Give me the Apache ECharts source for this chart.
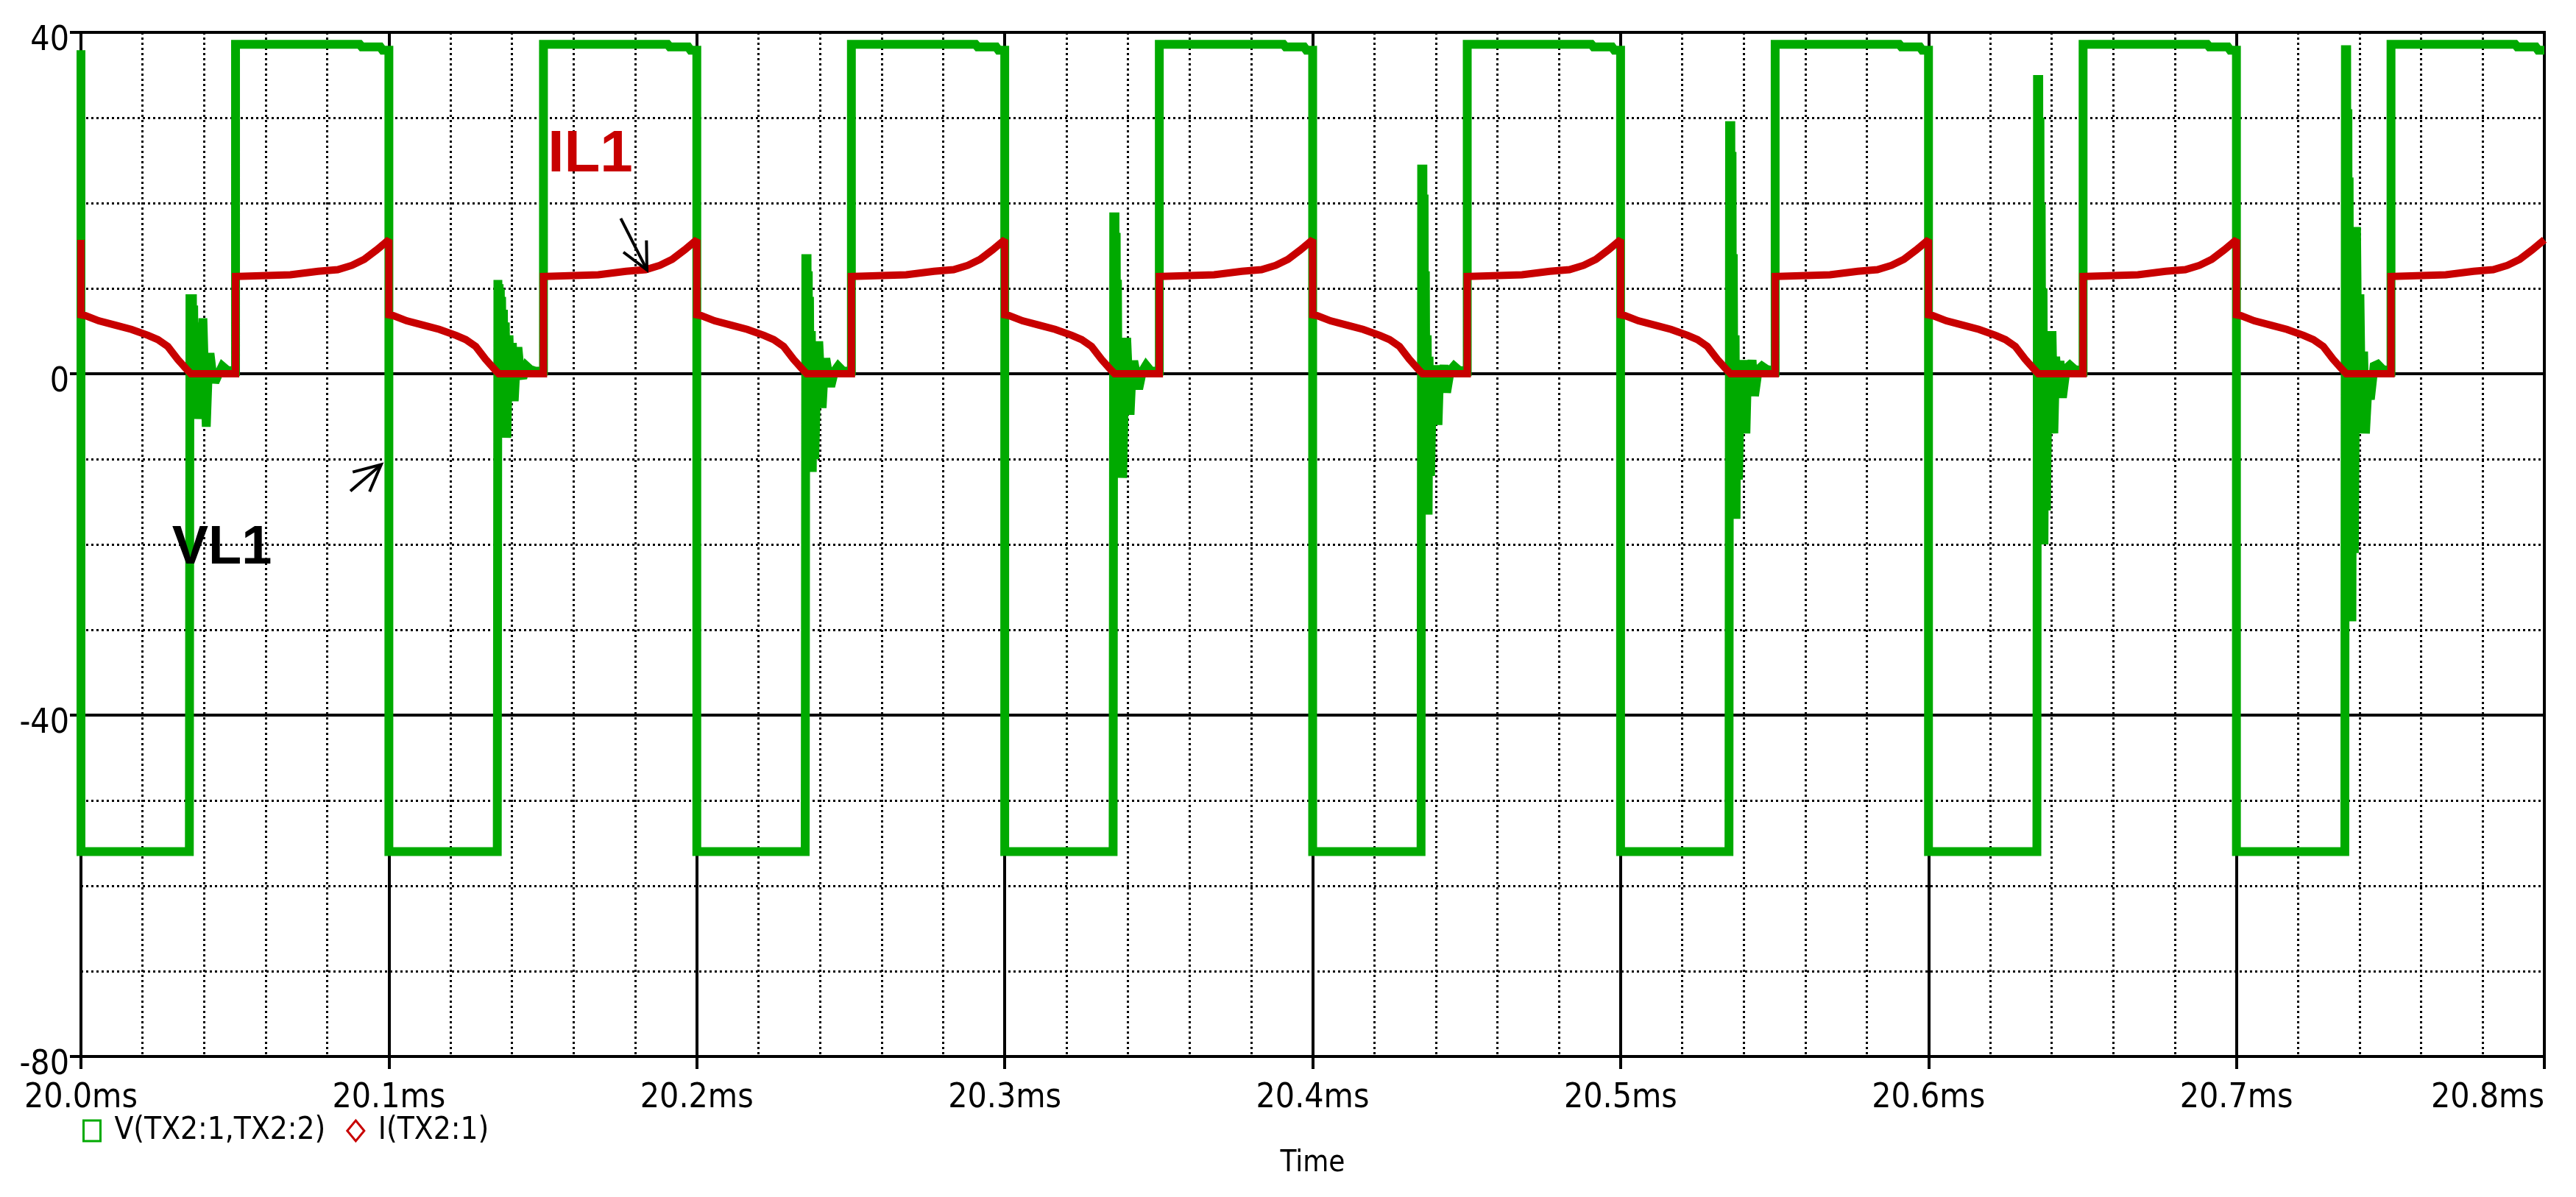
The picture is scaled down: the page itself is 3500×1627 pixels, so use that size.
<!DOCTYPE html>
<html>
<head>
<meta charset="utf-8">
<title>V(TX2:1,TX2:2) / I(TX2:1)</title>
<script src="https://cdn.jsdelivr.net/npm/echarts@6/dist/echarts.min.js"></script>
<style>
  html, body { margin: 0; padding: 0; background: #fff; }
  #main { width: 3500px; height: 1627px; }
</style>
</head>
<body>
<div id="main"></div>
<script>
// time axis in ms, the waveform repeats every 0.1 ms
var periodStarts = [20.0, 20.1, 20.2, 20.3, 20.4, 20.5, 20.6, 20.7];

// V(TX2:1,TX2:2) : low level, ringing after turn-off, then high level
// offsets are ms after each period start
var vLow = -56;
var vRingT = [0.0352, 0.0354, 0.0356, 0.0358, 0.0360, 0.0362, 0.0364, 0.0366, 0.0369, 0.0372, 0.0375, 0.0378, 0.0383,
              0.0390, 0.0396, 0.0401, 0.0407, 0.0413, 0.0419, 0.0427, 0.0435, 0.0447, 0.0459, 0.0475, 0.0502];
// ringing read per period (spikes grow over time)
var vRing = [
  [-56,  9.3,  -5.3,  9.3,  -5.3,  9.3,  -5.3,  8.0,  -5.3,  6.0,  -5.3,  3.0,  -5.3,  0.0,  6.5,  0.0, -6.2, 0.0,  2.4, 0.0, -1.0, 0.0, 0.9,  0.4, 0.3],
  [-56, 11.0,  -7.5, 10.5,  -7.5, 10.0,  -7.5,  9.0,  -7.5,  7.5,  -7.5,  6.0,  -7.5,  4.5, -3.2,  3.6, -3.2, 1.0,  3.1, 0.0, -0.5, 0.9, 0.5,  0.3, 0.3],
  [-56, 14.0, -11.5, 14.0, -11.5, 12.0, -11.5,  9.0, -11.5,  5.0, -11.5,  3.0, -10.0,  0.0,  3.8,  0.0, -4.0, 0.0,  1.8, 0.0, -1.5, 0.3, 0.9,  0.3, 0.3],
  [-56, 18.9, -12.2, 18.9, -12.2, 16.5, -12.2, 11.0, -12.2,  4.2, -12.2,  2.0, -12.2,  0.0,  4.2,  0.0, -4.8, 0.0,  1.5, 0.0, -1.8, 0.3, 1.0,  0.3, 0.3],
  [-56, 24.5, -16.5, 24.5, -16.5, 21.0, -16.5, 12.0, -16.5,  4.5, -16.5,  2.0, -12.0,  1.0, -5.0,  1.0, -6.0, 1.0, -1.0, 1.0, -2.2, 0.4, 0.9,  0.4, 0.3],
  [-56, 29.6, -17.0, 29.6, -17.0, 26.0, -17.0, 14.0, -17.0,  4.5, -17.0,  1.6, -12.4,  1.6, -4.3,  1.6, -7.0, 1.6, -0.9, 1.6, -2.6, 0.5, 0.9,  0.5, 0.3],
  [-56, 35.0, -20.0, 35.0, -20.0, 30.0, -20.0, 20.0, -20.0, 10.0, -20.0,  5.0, -16.0,  5.0, -7.0,  5.0, -7.0, 2.0, -1.5, 1.5, -2.8, 0.6, 1.0,  0.5, 0.3],
  [-56, 38.5, -29.0, 38.5, -29.0, 31.0, -29.0, 23.0, -29.0, 17.2, -29.0, 17.2, -21.0, 17.2, -7.0,  9.3, -7.0, 2.6, -7.0, -1.6, -3.0, 0.9, 1.1, 0.5, 0.3]
];
var vHighT = [0.0502, 0.0905, 0.0912, 0.0972, 0.0980, 0.1000];
var vHighV = [38.6, 38.6, 38.3, 38.3, 37.9, 37.9];

// I(TX2:1) : one period, offsets in ms
var iT = [0.0000, 0.0000, 0.0015, 0.0058, 0.0111, 0.0164, 0.0218, 0.0250, 0.0282, 0.0314, 0.0346, 0.0357,
          0.0502, 0.0502, 0.0680, 0.0770, 0.0834, 0.0880, 0.0920, 0.0960, 0.1000];
var iV = [15.7, 6.9, 6.8, 6.2, 5.7, 5.2, 4.5, 4.0, 3.2, 1.7, 0.4, 0.0,
          0.0, 11.4, 11.6, 12.0, 12.2, 12.7, 13.4, 14.5, 15.7];

// hand-drawn notes on the plot (data coordinates)
var noteText = ['IL1', 'VL1'];
var noteT = [20.1654, 20.0458];
var noteY = [25.6, -20.5];
var noteSize = [80, 74];
var noteColor = ['#c80000', '#000000'];
var arrowFrom = [[20.0875, -13.75], [20.1753, 18.2]];
var arrowTo = [[20.0975, -10.65], [20.1838, 12.17]];

var GREEN = '#00aa00';
var RED = '#c80000';
var FONT = '"Liberation Sans Narrow", "DejaVu Sans Condensed", "Liberation Sans", sans-serif';

// build the two traces
var vData = [];
periodStarts.forEach(function (t0, k) {
  if (k === 0) vData.push([t0, vHighV[vHighV.length - 1]]);
  vData.push([t0, vLow]);
  vRingT.forEach(function (dt, j) { vData.push([t0 + dt, vRing[k][j]]); });
  vHighT.forEach(function (dt, j) { vData.push([t0 + dt, vHighV[j]]); });
});

var iData = [];
periodStarts.forEach(function (t0) {
  iT.forEach(function (dt, j) { iData.push([t0 + dt, iV[j]]); });
});

var chart = echarts.init(document.getElementById('main'));

var option = {
  animation: false,
  backgroundColor: '#fff',
  grid: {
    left: 110, right: 43, top: 44, bottom: 191,
    show: true, borderColor: '#000', borderWidth: 4,
    containLabel: false, outerBoundsMode: 'none'
  },
  legend: {
    left: 112, top: 1516, padding: 0,
    itemGap: 28, itemWidth: 23, itemHeight: 28,
    selectedMode: false,
    textStyle: { fontSize: 42, fontFamily: FONT, color: '#000', padding: [0, 0, 0, 14] },
    data: [
      { name: 'V(TX2:1,TX2:2)', icon: 'rect', itemStyle: { color: 'rgba(0,0,0,0)', borderColor: GREEN, borderWidth: 3 } },
      { name: 'I(TX2:1)', icon: 'diamond', itemStyle: { color: 'rgba(0,0,0,0)', borderColor: RED, borderWidth: 3 } }
    ]
  },
  xAxis: {
    type: 'value', min: 20.0, max: 20.8, interval: 0.1,
    name: 'Time', nameLocation: 'middle', nameGap: 126,
    nameTextStyle: { fontSize: 40, fontFamily: FONT, color: '#000' },
    axisLine: { show: true, onZero: false, lineStyle: { color: '#000', width: 4 } },
    axisTick: { show: true, length: 17, lineStyle: { color: '#000', width: 4 } },
    axisLabel: {
      margin: 34, fontSize: 46, fontFamily: FONT, color: '#000',
      alignMaxLabel: 'right',
      formatter: function (v) { return v.toFixed(1) + 'ms'; }
    },
    splitLine: { show: true, lineStyle: { color: '#000', width: 4 } },
    minorTick: { show: false, splitNumber: 5 },
    minorSplitLine: { show: true, lineStyle: { color: '#000', width: 3, type: [3, 4] } }
  },
  yAxis: {
    type: 'value', min: -80, max: 40, interval: 40,
    axisLine: { show: true, onZero: false, lineStyle: { color: '#000', width: 4 } },
    axisTick: { show: true, length: 15, lineStyle: { color: '#000', width: 4 } },
    axisLabel: {
      margin: 16, fontSize: 46, fontFamily: FONT, color: '#000',
      verticalAlign: 'top', lineHeight: 24
    },
    splitLine: { show: true, lineStyle: { color: '#000', width: 4 } },
    minorTick: { show: false, splitNumber: 4 },
    minorSplitLine: { show: true, lineStyle: { color: '#000', width: 3, type: [3, 4] } }
  },
  series: [
    {
      name: 'V(TX2:1,TX2:2)',
      type: 'line',
      data: vData,
      symbol: 'none',
      showSymbol: false,
      silent: true,
      z: 3,
      itemStyle: { color: GREEN },
      lineStyle: { color: GREEN, width: 12, cap: 'butt', join: 'miter', miterLimit: 2 }
    },
    {
      name: 'I(TX2:1)',
      type: 'line',
      data: iData,
      symbol: 'none',
      showSymbol: false,
      silent: true,
      z: 4,
      itemStyle: { color: RED },
      lineStyle: { color: RED, width: 10, cap: 'butt', join: 'miter', miterLimit: 2 }
    },
    {
      // IL1 / VL1 notes
      type: 'custom',
      name: 'notes',
      silent: true,
      z: 10,
      data: noteT.map(function (t, i) { return [t, noteY[i], i]; }),
      encode: { x: 0, y: 1 },
      renderItem: function (params, api) {
        var i = api.value(2);
        var p = api.coord([api.value(0), api.value(1)]);
        return {
          type: 'text',
          x: p[0], y: p[1],
          style: {
            text: noteText[i], fill: noteColor[i],
            font: 'bold ' + noteSize[i] + 'px "Liberation Sans", Arial, sans-serif',
            align: 'center', verticalAlign: 'middle'
          }
        };
      }
    },
    {
      // thin pointer arrows
      type: 'custom',
      name: 'arrows',
      silent: true,
      z: 10,
      data: arrowFrom.map(function (a, i) { return [a[0], a[1], arrowTo[i][0], arrowTo[i][1]]; }),
      encode: { x: [0, 2], y: [1, 3] },
      renderItem: function (params, api) {
        var p1 = api.coord([api.value(0), api.value(1)]);
        var p2 = api.coord([api.value(2), api.value(3)]);
        var ang = Math.atan2(p1[1] - p2[1], p1[0] - p2[0]);
        var len = 40, spread = 26 * Math.PI / 180;
        var h1 = [p2[0] + len * Math.cos(ang + spread), p2[1] + len * Math.sin(ang + spread)];
        var h2 = [p2[0] + len * Math.cos(ang - spread), p2[1] + len * Math.sin(ang - spread)];
        var st = { stroke: '#000', lineWidth: 4, fill: null };
        return {
          type: 'group',
          children: [
            { type: 'line', shape: { x1: p1[0], y1: p1[1], x2: p2[0], y2: p2[1] }, style: st },
            { type: 'polyline', shape: { points: [h1, p2, h2] }, style: st }
          ]
        };
      }
    }
  ]
};

chart.setOption(option);
</script>
</body>
</html>
